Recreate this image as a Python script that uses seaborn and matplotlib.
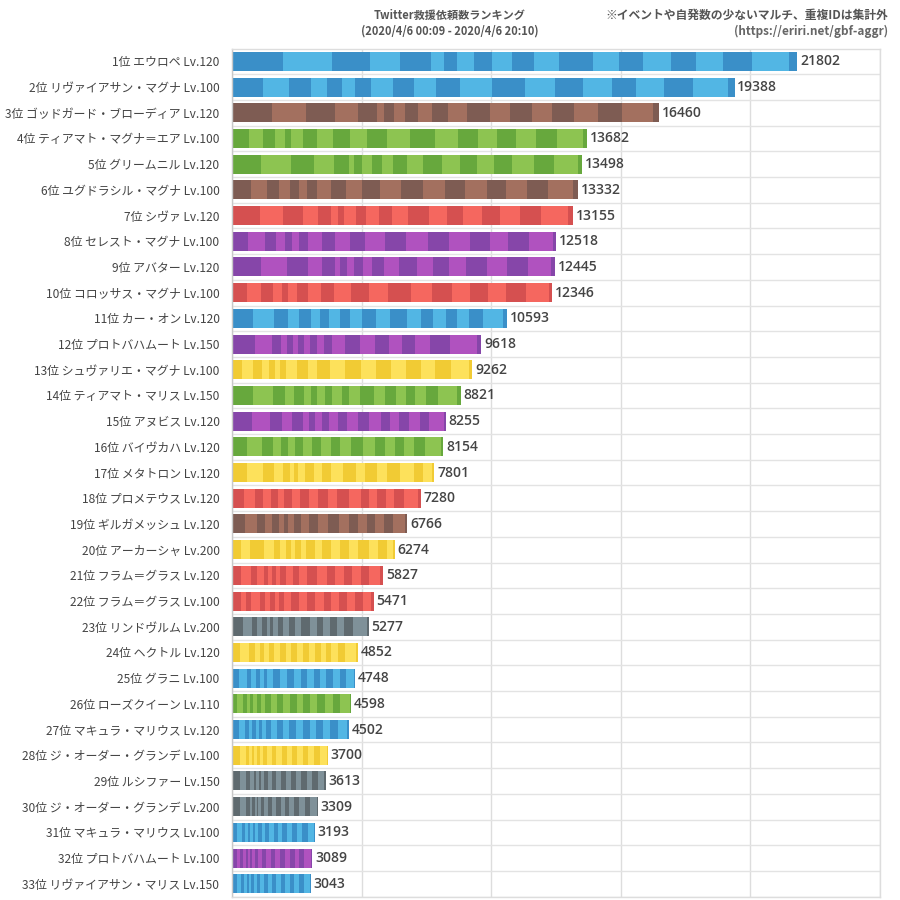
import numpy as np
import pandas as pd
import matplotlib
matplotlib.use("Agg")
import matplotlib.pyplot as plt
import seaborn as sns

# ---------------- data ----------------
labels = [
    "1位 エウロペ Lv.120", "2位 リヴァイアサン・マグナ Lv.100", "3位 ゴッドガード・ブローディア Lv.120",
    "4位 ティアマト・マグナ＝エア Lv.100", "5位 グリームニル Lv.120", "6位 ユグドラシル・マグナ Lv.100",
    "7位 シヴァ Lv.120", "8位 セレスト・マグナ Lv.100", "9位 アバター Lv.120",
    "10位 コロッサス・マグナ Lv.100", "11位 カー・オン Lv.120", "12位 プロトバハムート Lv.150",
    "13位 シュヴァリエ・マグナ Lv.100", "14位 ティアマト・マリス Lv.150", "15位 アヌビス Lv.120",
    "16位 バイヴカハ Lv.120", "17位 メタトロン Lv.120", "18位 プロメテウス Lv.120",
    "19位 ギルガメッシュ Lv.120", "20位 アーカーシャ Lv.200", "21位 フラム＝グラス Lv.120",
    "22位 フラム＝グラス Lv.100", "23位 リンドヴルム Lv.200", "24位 ヘクトル Lv.120",
    "25位 グラニ Lv.100", "26位 ローズクイーン Lv.110", "27位 マキュラ・マリウス Lv.120",
    "28位 ジ・オーダー・グランデ Lv.100", "29位 ルシファー Lv.150", "30位 ジ・オーダー・グランデ Lv.200",
    "31位 マキュラ・マリウス Lv.100", "32位 プロトバハムート Lv.100", "33位 リヴァイアサン・マリス Lv.150",
]
totals = [21802, 19388, 16460, 13682, 13498, 13332, 13155, 12518, 12445, 12346, 10593,
          9618, 9262, 8821, 8255, 8154, 7801, 7280, 6766, 6274, 5827, 5471, 5277,
          4852, 4748, 4598, 4502, 3700, 3613, 3309, 3193, 3089, 3043]
elements = ["water", "water", "earth", "wind", "wind", "earth", "fire", "dark", "dark", "fire",
            "water", "dark", "light", "wind", "dark", "wind", "light", "fire", "earth", "light",
            "fire", "fire", "none", "light", "water", "wind", "water", "light", "none", "none",
            "water", "dark", "water"]

hourly_share = [
    [133, 130, 99, 79, 80, 35, 35, 43, 49, 51, 59, 65, 88, 68, 64, 72, 66, 71, 78, 96, 21],
    [81, 69, 57, 42, 39, 35, 43, 56, 55, 59, 63, 84, 86, 79, 75, 74, 65, 72, 77, 91, 18],
    [105, 90, 75, 60, 50, 20, 24, 30, 34, 38, 42, 48, 60, 55, 56, 54, 58, 61, 64, 80, 16],
    [52, 42, 34, 31, 17, 36, 44, 46, 50, 52, 60, 70, 74, 69, 60, 57, 56, 60, 64, 77, 11],
    [87, 89, 71, 59, 43, 17, 23, 31, 28, 34, 42, 48, 58, 54, 50, 52, 54, 64, 60, 72, 12],
    [57, 47, 38, 33, 26, 23, 32, 40, 46, 48, 54, 62, 68, 64, 62, 64, 56, 64, 62, 76, 14],
    [84, 70, 58, 47, 38, 20, 19, 36, 30, 38, 40, 47, 62, 55, 47, 57, 54, 60, 64, 80, 16],
    [49, 50, 32, 28, 22, 19, 29, 40, 41, 42, 46, 60, 64, 64, 63, 64, 59, 55, 62, 73, 10],
    [86, 78, 63, 42, 38, 15, 22, 22, 26, 27, 37, 45, 53, 48, 48, 52, 62, 60, 62, 70, 10],
    [44, 42, 36, 28, 18, 26, 33, 39, 41, 49, 54, 58, 69, 62, 59, 56, 52, 56, 58, 69, 10],
    [64, 62, 43, 31, 37, 27, 26, 34, 31, 36, 40, 42, 53, 40, 36, 39, 35, 36, 42, 60, 10],
    [70, 50, 26, 18, 18, 15, 19, 19, 19, 21, 26, 37, 47, 43, 44, 38, 39, 46, 59, 80, 14],
    [30, 34, 26, 22, 17, 15, 18, 32, 36, 25, 41, 43, 48, 47, 45, 45, 44, 44, 47, 55, 8],
    [62, 60, 37, 28, 29, 20, 20, 23, 22, 28, 23, 32, 42, 33, 32, 30, 29, 32, 37, 57, 10],
    [60, 55, 36, 28, 33, 20, 17, 20, 23, 27, 27, 32, 35, 36, 25, 29, 28, 33, 28, 44, 7],
    [46, 45, 31, 24, 23, 21, 22, 28, 28, 28, 29, 33, 36, 36, 29, 30, 27, 31, 33, 47, 8],
    [44, 49, 33, 28, 20, 11, 12, 22, 27, 24, 28, 36, 38, 29, 34, 31, 40, 40, 28, 26, 8],
    [36, 34, 22, 24, 21, 20, 23, 24, 26, 28, 30, 28, 36, 35, 24, 26, 25, 26, 29, 43, 7],
    [40, 34, 26, 19, 23, 14, 13, 18, 19, 26, 25, 31, 33, 30, 28, 27, 24, 26, 28, 36, 7],
    [26, 28, 43, 29, 18, 18, 16, 12, 16, 16, 26, 21, 29, 26, 28, 27, 31, 27, 27, 20, 4],
    [28, 28, 20, 19, 12, 13, 12, 12, 18, 20, 20, 24, 30, 28, 25, 26, 24, 27, 26, 32, 9],
    [26, 16, 16, 25, 16, 15, 14, 13, 16, 20, 25, 22, 26, 26, 20, 24, 24, 25, 25, 25, 7],
    [32, 27, 17, 15, 13, 10, 10, 14, 16, 18, 16, 20, 26, 22, 18, 20, 20, 22, 28, 40, 6],
    [24, 28, 17, 15, 13, 15, 14, 18, 18, 14, 18, 18, 20, 18, 16, 16, 17, 20, 20, 33, 6],
    [20, 24, 14, 14, 12, 12, 10, 16, 22, 22, 20, 20, 20, 20, 18, 20, 20, 20, 20, 24, 2],
    [16, 18, 10, 10, 10, 10, 12, 12, 18, 18, 20, 20, 20, 20, 20, 22, 22, 24, 22, 30, 4],
    [22, 20, 10, 12, 10, 10, 10, 14, 16, 18, 18, 20, 22, 22, 20, 20, 22, 22, 24, 30, 5],
    [24, 18, 10, 8, 8, 8, 8, 10, 12, 14, 14, 16, 16, 16, 16, 16, 16, 18, 18, 20, 4],
    [24, 20, 14, 10, 8, 8, 8, 10, 12, 12, 14, 14, 16, 16, 16, 16, 18, 18, 18, 20, 4],
    [24, 20, 12, 8, 8, 6, 6, 8, 10, 12, 12, 14, 14, 14, 14, 16, 16, 16, 18, 20, 4],
    [18, 16, 10, 8, 8, 8, 8, 10, 12, 12, 14, 14, 14, 14, 16, 16, 16, 18, 18, 20, 4],
    [14, 12, 8, 8, 8, 6, 6, 8, 10, 12, 14, 14, 14, 14, 16, 16, 14, 14, 16, 20, 4],
    [16, 14, 10, 8, 8, 8, 8, 10, 10, 12, 14, 14, 14, 14, 16, 16, 14, 14, 16, 20, 4],
]

title_lines = ["Twitter救援依頼数ランキング", "(2020/4/6 00:09 - 2020/4/6 20:10)"]
note_lines = ["※イベントや自発数の少ないマルチ、重複IDは集計外", "(https://eriri.net/gbf-aggr)"]

# ---------------- style ----------------
element_colors = {
    "water": ("#3a8fc8", "#52b6e4"),
    "earth": ("#7e5c53", "#a3705f"),
    "wind": ("#67a83d", "#8dc451"),
    "fire": ("#d55050", "#f5675f"),
    "dark": ("#8646a9", "#b052bf"),
    "light": ("#f1cb34", "#fde15b"),
    "none": ("#5f6a6f", "#7f9199"),
}

sns.set_theme(style="white")
plt.rcParams["font.family"] = ["Noto Sans CJK JP", "DejaVu Sans"]

W, H = 900, 900
fig = plt.figure(figsize=(9, 9), dpi=100)
top_px, bot_px, left_px, right_px = 48.5, 896.6, 232, 880
ax = fig.add_axes([left_px / W, 1 - bot_px / H, (right_px - left_px) / W, (bot_px - top_px) / H])

# hourly counts scaled to each total, cumulative
share = np.array(hourly_share, dtype=float)
counts = share / share.sum(axis=1, keepdims=True) * np.array(totals)[:, None]
cum = np.cumsum(counts, axis=1)
n_hours = cum.shape[1]

for h in range(n_hours - 1, -1, -1):
    df = pd.DataFrame({"label": labels, "value": cum[:, h]})
    shade = 0 if h % 2 == 0 else 1
    pal = {lab: element_colors[el][shade] for lab, el in zip(labels, elements)}
    sns.barplot(data=df, x="value", y="label", hue="label", palette=pal, orient="h",
                width=0.74, saturation=1, legend=False, linewidth=0, ax=ax, order=labels,
                hue_order=labels)

ax.set_xlim(0, 25000)
ax.set_ylim(len(labels) - 0.5, -0.5)
ax.set_xticks(np.arange(0, 25001, 5000))
ax.set_xticklabels([])
ax.set_yticks(np.arange(len(labels)))
ax.set_yticklabels(labels, fontsize=8.6, color="#444444")
ax.set_yticks(np.arange(len(labels)) + 0.5, minor=True)
ax.tick_params(axis="y", which="both", length=0, pad=9)
ax.tick_params(axis="x", length=0)
ax.set_xlabel("")
ax.set_ylabel("")
ax.set_axisbelow(True)
ax.grid(axis="x", which="major", color="#dddddd", linewidth=1)
ax.grid(axis="y", which="minor", color="#e3e3e3", linewidth=1)
ax.grid(axis="y", which="major", visible=False)
for side in ["top", "right", "bottom"]:
    ax.spines[side].set_color("#dddddd")
    ax.spines[side].set_linewidth(1)
ax.spines["left"].set_color("#c8c8c8")
ax.spines["left"].set_linewidth(1)

for i, t in enumerate(totals):
    ax.text(t + 110, i, f"{t}", va="center", ha="left", fontsize=10,
            fontweight="semibold", color="#444444", family=["Open Sans", "DejaVu Sans"])

fig.text(450 / W, 1 - 15 / H, title_lines[0], ha="center", va="center", fontsize=8,
         fontweight="bold", color="#555555")
fig.text(450 / W, 1 - 31 / H, title_lines[1], ha="center", va="center", fontsize=8,
         fontweight="bold", color="#555555")
fig.text(888 / W, 1 - 15 / H, note_lines[0], ha="right", va="center", fontsize=8.5,
         fontweight="bold", color="#555555")
fig.text(888 / W, 1 - 31 / H, note_lines[1], ha="right", va="center", fontsize=8.5,
         fontweight="bold", color="#666666")

fig.savefig("out.png", dpi=100, facecolor="white")
